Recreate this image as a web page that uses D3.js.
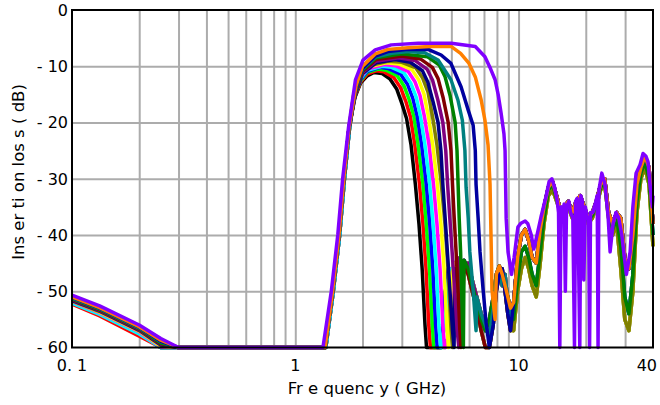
<!DOCTYPE html>
<html>
<head>
<meta charset="utf-8">
<script src="https://cdn.jsdelivr.net/npm/d3@7"></script>
<style>
  body { margin: 0; background: #fff; }
  text { font-family: "DejaVu Sans", Verdana, sans-serif; white-space: pre; }
</style>
</head>
<body>
<svg id="chart"></svg>
<script>
// ---- data ----
const colors = ['#000000', '#ff0000', '#00ff00', '#0000ff', '#00ffff', '#ff00ff', '#ffff00', '#808000',
                '#000080', '#800080', '#800000', '#008000', '#008080', '#0000a0', '#ff8000', '#8000ff'];

const yTicks = [0, -10, -20, -30, -40, -50, -60];
const xLabelTicks = [0.1, 1, 10, 40];
const xLabelText = ['0. 1', '1', '10', '40'];
const xGridTicks = [0.2, 0.3, 0.4, 0.5, 0.6, 0.7, 0.8, 0.9, 1, 2, 3, 4, 5, 6, 7, 8, 9, 10, 20, 30];

// low frequency tail (0.1 .. 0.3 GHz), one row per series
const lowFreqs = [0.1, 0.133, 0.2, 0.25, 0.3];
const lowVals = [
  [-52.0, -54.0, -57.5, -60.2, -62],
  [-52.3, -54.4, -58.0, -60.8, -62],
  [-52.0, -54.0, -57.4, -60.1, -62],
  [-51.9, -53.9, -57.3, -60.0, -62],
  [-52.1, -54.1, -57.6, -60.4, -62],
  [-51.8, -53.8, -57.2, -59.9, -62],
  [-51.7, -53.7, -57.1, -59.8, -62],
  [-51.7, -53.6, -57.0, -59.6, -62],
  [-51.6, -53.5, -56.9, -59.5, -62],
  [-51.5, -53.4, -56.8, -59.4, -62],
  [-51.4, -53.3, -56.7, -59.3, -62],
  [-51.3, -53.2, -56.6, -59.2, -61.5],
  [-51.2, -53.1, -56.5, -59.0, -61.2],
  [-51.1, -53.0, -56.4, -58.9, -61],
  [-51.0, -52.9, -56.3, -58.7, -60.8],
  [-50.7, -52.6, -56.0, -58.4, -60.5]
];

// pass band [GHz, dB] per series
const passband = [
  [[1.37,-61],[1.48,-50],[1.58,-40],[1.66,-30],[1.75,-21],[1.83,-16],[1.96,-13],[2.1,-11.7],[2.25,-11.1],[2.45,-11.3],[2.66,-12.3],[2.85,-14.1],[3.0,-16.6],[3.15,-19.3],[3.3,-24],[3.45,-31],[3.58,-38],[3.7,-46],[3.81,-56],[3.87,-62]],
  [[1.37,-61],[1.48,-50],[1.58,-40],[1.66,-30],[1.75,-21],[1.83,-15.8],[1.96,-12.8],[2.1,-11.4],[2.3,-10.8],[2.5,-11.0],[2.76,-12.0],[2.96,-13.8],[3.13,-16.3],[3.28,-19],[3.43,-24],[3.6,-31],[3.73,-38],[3.85,-46],[3.96,-56],[4.03,-62]],
  [[1.37,-61],[1.48,-50],[1.58,-40],[1.66,-30],[1.75,-21],[1.83,-15.6],[1.96,-12.6],[2.1,-11.1],[2.35,-10.5],[2.55,-10.7],[2.86,-11.7],[3.07,-13.5],[3.24,-16],[3.4,-19],[3.55,-24],[3.73,-31],[3.86,-38],[3.99,-46],[4.11,-56],[4.17,-62]],
  [[1.37,-61],[1.48,-50],[1.58,-40],[1.66,-30],[1.75,-21],[1.83,-15.4],[1.96,-12.4],[2.1,-10.9],[2.4,-10.2],[2.6,-10.4],[2.96,-11.4],[3.18,-13.2],[3.36,-15.7],[3.52,-19],[3.68,-24],[3.86,-31],[4.0,-38],[4.13,-46],[4.25,-56],[4.32,-62]],
  [[1.37,-61],[1.48,-50],[1.58,-40],[1.66,-30],[1.75,-21],[1.83,-15.2],[1.96,-12.2],[2.1,-10.7],[2.45,-10.0],[2.7,-10.2],[3.07,-11.2],[3.29,-13],[3.48,-15.5],[3.64,-19],[3.81,-24],[4.0,-31],[4.14,-38],[4.28,-46],[4.4,-56],[4.48,-62]],
  [[1.36,-61],[1.47,-50],[1.57,-40],[1.65,-30],[1.74,-21],[1.83,-15],[1.96,-12],[2.1,-10.5],[2.5,-9.7],[2.8,-9.9],[3.2,-10.9],[3.43,-12.7],[3.62,-15.2],[3.79,-19],[3.97,-24],[4.16,-31],[4.31,-38],[4.45,-46],[4.58,-56],[4.66,-62]],
  [[1.36,-61],[1.47,-50],[1.57,-40],[1.65,-30],[1.74,-21],[1.83,-14.9],[1.96,-11.8],[2.1,-10.2],[2.55,-9.4],[2.9,-9.6],[3.33,-10.6],[3.57,-12.4],[3.77,-14.9],[3.95,-19],[4.13,-24],[4.33,-31],[4.49,-38],[4.64,-46],[4.77,-56],[4.85,-62]],
  [[1.36,-61],[1.47,-50],[1.57,-40],[1.65,-30],[1.74,-21],[1.83,-14.8],[1.96,-11.6],[2.1,-10],[2.6,-9.1],[3.0,-9.3],[3.47,-10.3],[3.72,-12.1],[3.93,-14.6],[4.12,-19],[4.31,-24],[4.51,-31],[4.68,-38],[4.83,-46],[4.97,-56],[5.06,-62]],
  [[1.36,-61],[1.47,-50],[1.57,-40],[1.65,-30],[1.74,-21],[1.87,-14.6],[2.0,-11.3],[2.3,-9.4],[2.8,-8.8],[3.27,-9.3],[3.71,-10.8],[3.92,-12.8],[4.14,-16.3],[4.36,-20],[4.49,-25],[4.58,-31],[4.69,-37],[4.8,-43],[4.93,-50],[5.06,-57],[5.14,-62]],
  [[1.36,-61],[1.47,-50],[1.57,-40],[1.65,-30],[1.74,-21],[1.87,-14.4],[2.0,-11.1],[2.3,-9.1],[2.9,-8.5],[3.44,-9.0],[3.89,-10.5],[4.12,-12.5],[4.35,-16],[4.58,-20],[4.72,-25],[4.81,-31],[4.92,-37],[5.04,-43],[5.18,-50],[5.31,-57],[5.4,-62]],
  [[1.36,-61],[1.47,-50],[1.57,-40],[1.65,-30],[1.74,-21],[1.87,-14.2],[2.0,-10.9],[2.3,-8.8],[3.0,-8.2],[3.63,-8.7],[4.11,-10.2],[4.36,-12.2],[4.6,-15.7],[4.84,-20],[4.98,-25],[5.06,-31],[5.15,-37],[5.25,-43],[5.36,-50],[5.46,-57],[5.52,-62]],
  [[1.36,-61],[1.47,-50],[1.57,-40],[1.65,-30],[1.74,-21],[1.87,-14.0],[2.0,-10.7],[2.3,-8.5],[3.0,-7.8],[3.9,-8.3],[4.42,-9.8],[4.68,-11.8],[4.94,-15.3],[5.2,-20],[5.3,-25],[5.36,-31],[5.42,-37],[5.5,-43],[5.56,-50],[5.62,-57],[5.66,-62]],
  [[1.36,-61],[1.47,-50],[1.57,-40],[1.65,-30],[1.74,-21],[1.87,-13.8],[2.0,-10.5],[2.3,-8.3],[2.7,-7.7],[3.2,-7.4],[3.8,-7.6],[4.36,-8.9],[4.98,-12.4],[5.35,-16],[5.6,-19.6],[5.75,-25],[5.82,-31.5],[5.95,-37],[6.05,-43],[6.26,-49.8],[6.45,-57]],
  [[1.36,-61],[1.47,-50],[1.57,-40],[1.65,-30],[1.74,-21],[1.87,-13.7],[2.0,-10.4],[2.28,-8.2],[2.6,-7.4],[3.2,-7.0],[3.93,-7.0],[4.5,-8.0],[4.98,-9.5],[5.53,-13.7],[5.95,-17.8],[6.26,-20.5],[6.4,-25],[6.45,-31],[6.59,-37],[6.72,-43],[6.94,-49.8],[7.15,-55.5]],
  [[1.36,-61],[1.47,-50],[1.57,-40],[1.65,-30],[1.74,-21],[1.87,-13.5],[2.0,-10],[2.28,-7.8],[2.6,-7.0],[3.2,-6.7],[4.0,-6.5],[5.0,-6.5],[5.5,-7.7],[6.0,-9.5],[6.4,-11.9],[6.8,-16],[7.07,-19.6],[7.3,-24],[7.45,-31],[7.5,-37],[7.55,-43],[7.6,-49.8],[7.85,-55]],
  [[1.33,-61],[1.45,-50],[1.55,-40],[1.63,-30],[1.73,-21],[1.86,-12.4],[2.01,-8.9],[2.28,-7.1],[2.69,-6.2],[3.55,-5.9],[5.0,-5.9],[6.4,-6.5],[7.07,-8.3],[7.5,-10.5],[7.85,-12.4],[8.1,-15],[8.35,-18.3],[8.6,-22],[8.7,-25],[8.75,-31],[8.8,-37],[8.97,-43],[9.3,-47]]
];

// ripple just above the pass band (4.3 .. 9.2 GHz)
const midFreqs = [4.3, 4.5, 4.7, 4.85, 5.0, 5.2, 5.45, 5.7, 5.95, 6.2, 6.5, 6.8, 7.1, 7.4, 7.7, 7.95, 8.2, 8.45, 8.7, 8.95, 9.2];
const midA = [-64, -62, -50, -46, -47, -45, -44, -46, -45, -48, -51, -54, -56, -58, -53, -48, -46, -49, -47, -52, -55];
const midB = [-64, -63, -55, -48, -46, -47, -45, -45.5, -47, -50, -53, -57, -60, -62, -56, -50, -47, -46, -50, -54, -57];
const midC = [-64, -64, -62, -58, -50, -46, -46, -44.5, -46, -49, -52, -55, -57, -55, -51, -47, -45.5, -47, -49, -51, -53];

// stop band (9.5 .. 40 GHz): A lowest, C middle, B close to the top trace
const stopFreqs = [9.5, 9.9, 10.3, 10.7, 11.1, 11.5, 12.0, 12.5, 13.0, 13.6, 14.2, 14.8, 15.4, 16.0, 16.7, 17.4, 18.1, 18.9,
                   19.7, 20.5, 21.4, 22.3, 23.3, 24.3, 25.3, 26.4, 27.5, 28.7, 29.9, 31.2, 32.5, 33.9, 35.3, 36.8, 38.4, 40];
const stopA = [-57, -50, -46, -44, -46, -49, -51, -45, -38, -33, -32, -34, -36, -36, -35, -37, -35, -34,
               -36, -38, -37, -35, -32, -31, -37, -40, -38, -46, -55, -57, -50, -36, -30, -28, -31, -42];
const stopC = [-55, -48, -43, -42, -44, -47, -49, -43, -37, -32, -31, -33.5, -36, -35.5, -34.5, -36.5, -34.5, -33.5,
               -35.5, -37.5, -36.5, -34.5, -31.5, -30.5, -36.5, -39, -37, -42, -51, -54, -47, -34, -29, -27, -30, -40];
const stopB = [-52, -44, -40, -39, -41, -44, -45, -39, -35, -31.5, -30.5, -33, -35.5, -35, -34, -36, -34, -33,
               -35, -37, -36, -34, -31, -30, -36, -38, -36, -37, -44, -46, -40, -31, -28, -26, -28, -38];

// widest series has its own, spikier stop band trace
const violetStopFreqs = [
  9.55, 9.93, 10.25, 10.7, 11.0, 11.4, 11.7, 12.1, 12.6, 13.3,
  13.7, 14.1, 14.5, 14.9, 15.1, 15.3, 15.5, 15.8, 16.0, 16.2,
  16.4, 16.8, 17.1, 17.5, 17.8, 18.0, 18.3, 18.5, 18.8, 19.0,
  19.3, 19.6, 19.9, 20.3, 20.6, 20.8, 21.0, 21.5, 22.2, 22.5,
  22.7, 22.9, 23.6, 24.4, 25.2, 25.7, 26.5, 27.3, 28.1, 29.0,
  30.4, 31.6, 32.5, 33.6, 35.0, 36.1, 37.2, 38.0, 38.8, 39.7, 40];
const violetStopDb = [
  -44, -38.6, -37.9, -37.5, -38, -40, -42.5, -40, -36.8, -33,
  -30.5, -30, -31.5, -34, -36, -62, -35, -36, -34.5, -50,
  -35, -34, -36, -37, -62, -34, -33.5, -40, -62, -33,
  -34, -48, -35, -37, -37, -62, -36, -36, -34, -33,
  -62, -32, -29, -31, -37, -43, -38, -36, -37, -40,
  -47, -43, -35, -29, -27.5, -25.5, -26, -27, -31, -35, -33];

const midSets = [midA, midB, midC, midA, midB, midC, midA, midB, midC, midA, midB, midC, midA, midB, midC, null];
const stopSets = [stopA, stopB, stopC, stopC, stopB, stopB, stopA, stopA, stopB, stopB, stopB, stopC, stopB, stopB, stopB, null];

// ---- chart ----
const width = 660, height = 405;
const margin = {top: 10, right: 7, bottom: 57.5, left: 72};
const innerW = width - margin.left - margin.right;
const innerH = height - margin.top - margin.bottom;

const svg = d3.select('#chart')
    .attr('width', width)
    .attr('height', height);

const xScale = d3.scaleLog()
    .domain([0.1, 40])
    .range([0, innerW]);

const yScale = d3.scaleLinear()
    .domain([-60, 0])
    .range([innerH, 0])
    .clamp(true);

const chart = svg.append('g')
    .attr('transform', `translate(${margin.left},${margin.top})`);

// grid
chart.append('g')
    .attr('class', 'grid')
    .attr('transform', `translate(0,${innerH})`)
    .call(d3.axisBottom(xScale).tickValues(xGridTicks).tickSize(-innerH).tickFormat(''))
    .call(g => g.select('.domain').remove());

chart.append('g')
    .attr('class', 'grid')
    .call(d3.axisLeft(yScale).tickValues(yTicks.slice(1, -1)).tickSize(-innerW).tickFormat(''))
    .call(g => g.select('.domain').remove());

chart.selectAll('.grid line')
    .attr('stroke', '#acacac')
    .attr('stroke-width', 2);

// build each series from its pieces
const seriesData = colors.map((c, i) => {
  let pts = lowFreqs.map((f, j) => [f, lowVals[i][j]]).concat(passband[i]);
  const lastF = passband[i][passband[i].length - 1][0];
  if (midSets[i]) {
    midFreqs.forEach((f, j) => { if (f > lastF) pts.push([f, midSets[i][j]]); });
    stopFreqs.forEach((f, j) => pts.push([f, stopSets[i][j]]));
  } else {
    violetStopFreqs.forEach((f, j) => pts.push([f, violetStopDb[j]]));
  }
  return {color: c, pts: pts};
});

const line = d3.line()
    .x(d => xScale(d[0]))
    .y(d => yScale(d[1]));

chart.append('g')
    .selectAll('path')
    .data(seriesData)
  .join('path')
    .attr('d', d => line(d.pts))
    .attr('fill', 'none')
    .attr('stroke', d => d.color)
    .attr('stroke-width', 3.5)
    .attr('stroke-linejoin', 'round');

// frame
chart.append('rect')
    .attr('width', innerW)
    .attr('height', innerH)
    .attr('fill', 'none')
    .attr('stroke', '#000')
    .attr('stroke-width', 2);

// y tick labels
chart.append('g')
    .selectAll('text')
    .data(yTicks)
  .join('text')
    .attr('x', -4)
    .attr('y', d => yScale(d))
    .attr('dy', '0.36em')
    .attr('text-anchor', 'end')
    .style('font-size', '16px')
    .text(d => d === 0 ? '0' : '- ' + (-d));

// x tick labels
chart.append('g')
    .selectAll('text')
    .data(xLabelTicks)
  .join('text')
    .attr('x', (d, i) => i === xLabelTicks.length - 1 ? xScale(d) + 4 : xScale(d))
    .attr('y', innerH + 23)
    .attr('text-anchor', (d, i) => i === xLabelTicks.length - 1 ? 'end' : 'middle')
    .style('font-size', '16px')
    .text((d, i) => xLabelText[i]);

// axis titles
svg.append('text')
    .attr('transform', `translate(24,172) rotate(-90)`)
    .attr('text-anchor', 'middle')
    .style('font-size', '16.5px')
    .text('Ins er ti on los s ( dB)');

svg.append('text')
    .attr('x', 367)
    .attr('y', 394)
    .attr('text-anchor', 'middle')
    .style('font-size', '16.5px')
    .text('Fr e quenc y ( GHz)');
</script>
</body>
</html>
